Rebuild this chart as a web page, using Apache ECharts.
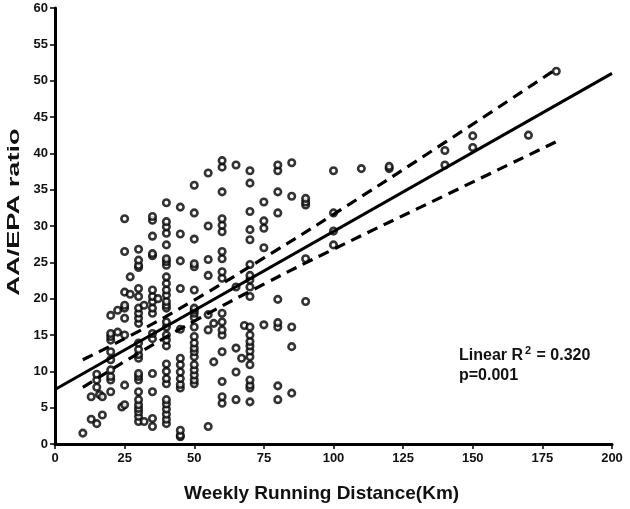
<!DOCTYPE html>
<html>
<head>
<meta charset="utf-8">
<script src="https://cdn.jsdelivr.net/npm/echarts@6/dist/echarts.min.js"></script>
<style>html,body{margin:0;padding:0;background:#fff}#c{width:630px;height:509px}</style>
</head>
<body>
<div id="c"></div>
<script>
// Scatter points: [distance (km), list of AA/EPA ratios at that distance]
const pointsByDistance = [
  [10, [1.5]],
  [13, [3.4, 6.5]],
  [15, [2.8, 7.8, 8.8, 9.6]],
  [16, [6.8]],
  [17, [4.0, 6.5]],
  [20, [7.2, 8.8, 9.3, 10.2, 11.6, 12.7, 14.3, 14.8, 15.2, 17.7]],
  [22.5, [15.4, 18.4]],
  [24, [5.1]],
  [25, [5.4, 8.1, 15.0, 17.3, 18.7, 19.1, 20.9, 26.5, 31.0]],
  [27, [20.6, 23.0]],
  [30, [3.1, 3.8, 4.4, 4.9, 5.4, 6.1, 7.2, 8.8, 9.3, 9.7, 11.8, 12.3, 13.0, 13.9, 16.6, 17.3, 18.0, 18.7, 20.3, 21.4, 24.3, 24.6, 25.3, 26.8]],
  [32, [3.1, 19.1]],
  [35, [2.4, 3.5, 7.2, 9.7, 14.5, 15.2, 18.0, 18.7, 19.6, 20.3, 21.2, 25.9, 26.2, 28.6, 30.8, 31.3]],
  [37, [20.0]],
  [40, [2.8, 3.4, 4.1, 4.8, 5.5, 6.1, 8.3, 9.0, 10.0, 11.0, 13.5, 14.3, 15.0, 16.1, 16.8, 18.7, 19.1, 19.6, 20.5, 21.2, 22.1, 23.0, 24.6, 25.1, 25.5, 27.4, 29.0, 29.9, 30.6, 33.2]],
  [45, [1.0, 1.2, 1.9, 7.7, 8.2, 9.0, 9.9, 10.9, 11.8, 15.8, 21.4, 25.2, 28.9, 32.6]],
  [50, [8.3, 8.8, 9.5, 10.2, 10.9, 12.0, 12.7, 13.2, 13.9, 14.8, 16.1, 17.4, 18.0, 18.4, 18.7, 21.2, 24.4, 24.8, 28.2, 31.8, 35.6]],
  [55, [2.4, 15.7, 17.8, 23.2, 25.4, 30.0, 37.3]],
  [57, [11.3, 16.6]],
  [60, [5.6, 6.5, 8.6, 12.7, 15.0, 15.7, 16.8, 18.0, 22.8, 23.7, 25.5, 26.5, 29.2, 30.1, 31.0, 34.7, 38.1, 39.0]],
  [65, [6.1, 9.9, 13.2, 21.6, 38.4]],
  [67, [11.8]],
  [68, [16.3]],
  [70, [5.8, 7.7, 8.1, 8.8, 10.9, 12.0, 12.8, 13.5, 14.1, 15.0, 16.1, 20.3, 21.6, 22.6, 23.2, 24.7, 28.1, 29.5, 32.0, 35.9, 37.6]],
  [75, [16.4, 27.0, 29.7, 30.7, 33.3]],
  [80, [6.1, 8.0, 16.1, 16.7, 19.9, 31.8, 34.7, 37.6, 38.4]],
  [85, [7.0, 13.4, 16.1, 34.1, 38.7]],
  [90, [19.6, 25.5, 32.9, 33.3, 33.8]],
  [100, [27.4, 29.3, 31.8, 37.6]],
  [110, [37.9]],
  [120, [37.9, 38.2]],
  [140, [38.4, 40.4]],
  [150, [40.8, 42.4]],
  [170, [42.5]],
  [180, [51.3]]
];

// Regression line
const fitX = [0, 200];
const fitY = [7.5, 51.0];

// Confidence band dashed lines
const bandX = [10, 30, 50, 75, 100, 140, 180];
const bandUpper = [11.6, 15.5, 19.8, 25.6, 31.6, 41.5, 51.6];
const bandLower = [7.8, 12.5, 16.9, 22.0, 26.8, 34.2, 41.6];

const xTicks = [0, 25, 50, 75, 100, 125, 150, 175, 200];
const yTicks = [0, 5, 10, 15, 20, 25, 30, 35, 40, 45, 50, 55, 60];

const scatterData = [];
pointsByDistance.forEach(([x, ys]) => ys.forEach(y => scatterData.push([x, y])));
const zip = (xs, ys) => xs.map((x, i) => [x, ys[i]]);

const FONT = '"Liberation Sans", Arial, sans-serif';
const chart = echarts.init(document.getElementById('c'), null, {renderer: 'canvas'});
chart.setOption({
  animation: false,
  backgroundColor: '#fff',
  grid: {left: 55, right: 18, top: 8, bottom: 65, containLabel: false},
  xAxis: {
    type: 'value', min: xTicks[0], max: xTicks[xTicks.length - 1], interval: 25,
    name: 'Weekly Running Distance(Km)', nameLocation: 'middle', nameGap: 40,
    nameTextStyle: {fontFamily: FONT, fontWeight: 'bold', fontSize: 19, color: '#111', padding: [0, 24, 0, 0]},
    axisLine: {lineStyle: {color: '#000', width: 3}},
    axisTick: {show: true, length: 5, lineStyle: {color: '#000', width: 1.5}},
    axisLabel: {fontFamily: FONT, fontWeight: 'bold', fontSize: 13, color: '#111', margin: 8},
    splitLine: {show: false}
  },
  yAxis: {
    type: 'value', min: yTicks[0], max: yTicks[yTicks.length - 1], interval: 5,
    axisLine: {lineStyle: {color: '#000', width: 3}},
    axisTick: {show: true, length: 5, lineStyle: {color: '#000', width: 1.5}},
    axisLabel: {fontFamily: FONT, fontWeight: 'bold', fontSize: 13, color: '#111', margin: 7},
    splitLine: {show: false}
  },
  series: [
    {
      type: 'scatter', data: scatterData, symbol: 'circle', symbolSize: 6.5,
      itemStyle: {color: '#fff', borderColor: '#000', borderWidth: 2.6}, z: 3
    },
    {
      type: 'line', data: zip(fitX, fitY), symbol: 'none',
      lineStyle: {color: '#000', width: 3}, z: 4
    },
    {
      type: 'line', data: zip(bandX, bandUpper), symbol: 'none', smooth: true,
      lineStyle: {color: '#000', width: 3.2, type: [11, 7]}, z: 4
    },
    {
      type: 'line', data: zip(bandX, bandLower), symbol: 'none', smooth: true,
      lineStyle: {color: '#000', width: 3.2, type: [11, 7]}, z: 4
    }
  ],
  graphic: [
    {
      type: 'text', x: 14, y: 212, rotation: Math.PI / 2, scaleX: 1.6,
      style: {
        text: 'AA/EPA ratio', fontFamily: FONT, fontWeight: 'bold', fontSize: 17,
        fill: '#111', align: 'center', verticalAlign: 'middle'
      }
    },
    {
      type: 'text', x: 459, y: 345,
      style: {
        text: '{a|Linear R}{s|2}{a| = 0.320}',
        rich: {
          a: {fontFamily: FONT, fontWeight: 'bold', fontSize: 16, fill: '#111', lineHeight: 19, verticalAlign: 'bottom'},
          s: {fontFamily: FONT, fontWeight: 'bold', fontSize: 11, fill: '#111', lineHeight: 12, verticalAlign: 'top', padding: [0, 1, 0, 2]}
        }
      }
    },
    {
      type: 'text', x: 459, y: 368,
      style: {text: 'p=0.001', fontFamily: FONT, fontWeight: 'bold', fontSize: 16, fill: '#111'}
    }
  ]
});
</script>
</body>
</html>
